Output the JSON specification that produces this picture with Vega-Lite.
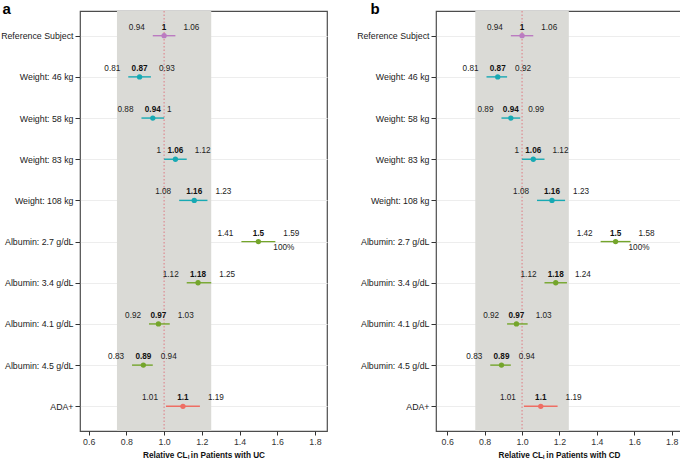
{
  "$schema": "https://vega.github.io/schema/vega-lite/v6.json",
  "padding": {"left": 0, "top": 0, "right": 1, "bottom": 0},
  "background": "white",
  "config": {
    "font": "Liberation Sans",
    "view": {"stroke": "#4d4d4d", "strokeWidth": 1.2},
    "concat": {"spacing": 28},
    "axisY": {
      "labelFont": "Liberation Sans", "labelFontSize": 8.8, "labelColor": "#1a1a1a",
      "tickColor": "#333333", "tickSize": 5, "labelPadding": 2, "domain": false,
      "grid": true, "gridColor": "#ededed", "minExtent": 79, "maxExtent": 79,
      "titleAngle": 0, "titleAlign": "left", "titleBaseline": "alphabetic", "titleY": 2.5,
      "titleFont": "Liberation Sans", "titleFontSize": 15, "titleFontWeight": "bold", "titleColor": "#000000"
    },
    "axisX": {
      "labelFont": "Liberation Sans", "labelFontSize": 8.8, "labelColor": "#333333",
      "tickColor": "#333333", "tickSize": 4, "labelPadding": 2, "domain": false,
      "titleFont": "Liberation Sans", "titleFontSize": 8.2, "titleFontWeight": "bold", "titleColor": "#111111", "titlePadding": 6,
      "labelOverlap": false, "labelFlush": false
    }
  },
  "datasets": {
    "uc": [
      {"label": "Reference Subject", "group": "Reference", "est": 1, "lo": 0.94, "hi": 1.06},
      {"label": "Weight: 46 kg", "group": "Weight", "est": 0.87, "lo": 0.81, "hi": 0.93},
      {"label": "Weight: 58 kg", "group": "Weight", "est": 0.94, "lo": 0.88, "hi": 1},
      {"label": "Weight: 83 kg", "group": "Weight", "est": 1.06, "lo": 1, "hi": 1.12},
      {"label": "Weight: 108 kg", "group": "Weight", "est": 1.16, "lo": 1.08, "hi": 1.23},
      {"label": "Albumin: 2.7 g/dL", "group": "Albumin", "est": 1.5, "lo": 1.41, "hi": 1.59, "note": "100%"},
      {"label": "Albumin: 3.4 g/dL", "group": "Albumin", "est": 1.18, "lo": 1.12, "hi": 1.25},
      {"label": "Albumin: 4.1 g/dL", "group": "Albumin", "est": 0.97, "lo": 0.92, "hi": 1.03},
      {"label": "Albumin: 4.5 g/dL", "group": "Albumin", "est": 0.89, "lo": 0.83, "hi": 0.94},
      {"label": "ADA+", "group": "ADA", "est": 1.1, "lo": 1.01, "hi": 1.19}
    ],
    "cd": [
      {"label": "Reference Subject", "group": "Reference", "est": 1, "lo": 0.94, "hi": 1.06},
      {"label": "Weight: 46 kg", "group": "Weight", "est": 0.87, "lo": 0.81, "hi": 0.92},
      {"label": "Weight: 58 kg", "group": "Weight", "est": 0.94, "lo": 0.89, "hi": 0.99},
      {"label": "Weight: 83 kg", "group": "Weight", "est": 1.06, "lo": 1, "hi": 1.12},
      {"label": "Weight: 108 kg", "group": "Weight", "est": 1.16, "lo": 1.08, "hi": 1.23},
      {"label": "Albumin: 2.7 g/dL", "group": "Albumin", "est": 1.5, "lo": 1.42, "hi": 1.58, "note": "100%"},
      {"label": "Albumin: 3.4 g/dL", "group": "Albumin", "est": 1.18, "lo": 1.12, "hi": 1.24},
      {"label": "Albumin: 4.1 g/dL", "group": "Albumin", "est": 0.97, "lo": 0.92, "hi": 1.03},
      {"label": "Albumin: 4.5 g/dL", "group": "Albumin", "est": 0.89, "lo": 0.83, "hi": 0.94},
      {"label": "ADA+", "group": "ADA", "est": 1.1, "lo": 1.01, "hi": 1.19}
    ]
  },
  "hconcat": [
    {
      "width": 247, "height": 420,
      "data": {"name": "uc"},
      "layer": [
        {
          "data": {"values": [{}]},
          "mark": {"type": "rect", "color": "#dadad6"},
          "encoding": {
            "x": {"datum": 0.75, "type": "quantitative",
              "scale": {"domain": [0.554, 1.864], "nice": false, "zero": false},
              "axis": {
                "title": "Relative CLₗ in Patients with UC",
                "values": [0.6, 0.7, 0.8, 0.9, 1.0, 1.1, 1.2, 1.3, 1.4, 1.5, 1.6, 1.7, 1.8],
                "labelExpr": "round(datum.value*10)%2==1 ? '' : format(datum.value, '.1f')",
                "gridColor": {"condition": {"test": "round(datum.value*10)%2==1", "value": "#f5f5f5"}, "value": "#e8e8e8"},
                "tickOpacity": {"condition": {"test": "round(datum.value*10)%2==1", "value": 0}, "value": 1}
              }},
            "x2": {"datum": 1.25}
          }
        },
        {
          "data": {"values": [{}]},
          "mark": {"type": "rule", "color": "#e0707a", "strokeDash": [1.5, 2], "strokeWidth": 0.9},
          "encoding": {"x": {"datum": 1, "type": "quantitative"}}
        },
        {
          "mark": {"type": "rule", "strokeWidth": 1.4},
          "encoding": {
            "y": {"field": "label", "type": "nominal", "sort": ["Reference Subject", "Weight: 46 kg", "Weight: 58 kg", "Weight: 83 kg", "Weight: 108 kg", "Albumin: 2.7 g/dL", "Albumin: 3.4 g/dL", "Albumin: 4.1 g/dL", "Albumin: 4.5 g/dL", "ADA+"], "scale": {"type": "point", "padding": 0.6},
              "axis": {"title": "a", "titleX": -78}},
            "x": {"field": "lo", "type": "quantitative"},
            "x2": {"field": "hi"},
            "color": {"field": "group", "type": "nominal", "scale": {"domain": ["Reference", "Weight", "Albumin", "ADA"], "range": ["#bb7bc1", "#17a9b3", "#74a52b", "#ee6e64"]}, "legend": null}
          }
        },
        {
          "mark": {"type": "point", "filled": true, "opacity": 1, "size": 28},
          "encoding": {
            "y": {"field": "label", "type": "nominal", "sort": ["Reference Subject", "Weight: 46 kg", "Weight: 58 kg", "Weight: 83 kg", "Weight: 108 kg", "Albumin: 2.7 g/dL", "Albumin: 3.4 g/dL", "Albumin: 4.1 g/dL", "Albumin: 4.5 g/dL", "ADA+"]},
            "x": {"field": "est", "type": "quantitative"},
            "color": {"field": "group", "type": "nominal", "legend": null}
          }
        },
        {
          "mark": {"type": "text", "align": "right", "baseline": "middle", "dy": -8, "dx": {"expr": "datum.lo == 1 ? -3 : -8"}, "fontSize": 8.2, "color": "#222222"},
          "encoding": {
            "y": {"field": "label", "type": "nominal", "sort": ["Reference Subject", "Weight: 46 kg", "Weight: 58 kg", "Weight: 83 kg", "Weight: 108 kg", "Albumin: 2.7 g/dL", "Albumin: 3.4 g/dL", "Albumin: 4.1 g/dL", "Albumin: 4.5 g/dL", "ADA+"]},
            "x": {"field": "lo", "type": "quantitative"},
            "text": {"field": "lo", "type": "nominal"}
          }
        },
        {
          "mark": {"type": "text", "align": "center", "baseline": "middle", "dy": -8, "fontSize": 8.2, "fontWeight": "bold", "color": "#111111"},
          "encoding": {
            "y": {"field": "label", "type": "nominal", "sort": ["Reference Subject", "Weight: 46 kg", "Weight: 58 kg", "Weight: 83 kg", "Weight: 108 kg", "Albumin: 2.7 g/dL", "Albumin: 3.4 g/dL", "Albumin: 4.1 g/dL", "Albumin: 4.5 g/dL", "ADA+"]},
            "x": {"field": "est", "type": "quantitative"},
            "text": {"field": "est", "type": "nominal"}
          }
        },
        {
          "mark": {"type": "text", "align": "left", "baseline": "middle", "dy": -8, "dx": {"expr": "datum.hi == 1 ? 3 : 8"}, "fontSize": 8.2, "color": "#222222"},
          "encoding": {
            "y": {"field": "label", "type": "nominal", "sort": ["Reference Subject", "Weight: 46 kg", "Weight: 58 kg", "Weight: 83 kg", "Weight: 108 kg", "Albumin: 2.7 g/dL", "Albumin: 3.4 g/dL", "Albumin: 4.1 g/dL", "Albumin: 4.5 g/dL", "ADA+"]},
            "x": {"field": "hi", "type": "quantitative"},
            "text": {"field": "hi", "type": "nominal"}
          }
        },
        {
          "transform": [{"filter": "datum.note"}],
          "mark": {"type": "text", "align": "left", "baseline": "middle", "dy": 6, "dx": -2, "fontSize": 8.2, "color": "#222222"},
          "encoding": {
            "y": {"field": "label", "type": "nominal", "sort": ["Reference Subject", "Weight: 46 kg", "Weight: 58 kg", "Weight: 83 kg", "Weight: 108 kg", "Albumin: 2.7 g/dL", "Albumin: 3.4 g/dL", "Albumin: 4.1 g/dL", "Albumin: 4.5 g/dL", "ADA+"]},
            "x": {"field": "hi", "type": "quantitative"},
            "text": {"field": "note", "type": "nominal"}
          }
        }
      ]
    },
    {
      "width": 246, "height": 420,
      "data": {"name": "cd"},
      "layer": [
        {
          "data": {"values": [{}]},
          "mark": {"type": "rect", "color": "#dadad6"},
          "encoding": {
            "x": {"datum": 0.75, "type": "quantitative",
              "scale": {"domain": [0.54, 1.855], "nice": false, "zero": false},
              "axis": {
                "title": "Relative CLₗ in Patients with CD",
                "values": [0.6, 0.7, 0.8, 0.9, 1.0, 1.1, 1.2, 1.3, 1.4, 1.5, 1.6, 1.7, 1.8],
                "labelExpr": "round(datum.value*10)%2==1 ? '' : format(datum.value, '.1f')",
                "gridColor": {"condition": {"test": "round(datum.value*10)%2==1", "value": "#f5f5f5"}, "value": "#e8e8e8"},
                "tickOpacity": {"condition": {"test": "round(datum.value*10)%2==1", "value": 0}, "value": 1}
              }},
            "x2": {"datum": 1.25}
          }
        },
        {
          "data": {"values": [{}]},
          "mark": {"type": "rule", "color": "#e0707a", "strokeDash": [1.5, 2], "strokeWidth": 0.9},
          "encoding": {"x": {"datum": 1, "type": "quantitative"}}
        },
        {
          "mark": {"type": "rule", "strokeWidth": 1.4},
          "encoding": {
            "y": {"field": "label", "type": "nominal", "sort": ["Reference Subject", "Weight: 46 kg", "Weight: 58 kg", "Weight: 83 kg", "Weight: 108 kg", "Albumin: 2.7 g/dL", "Albumin: 3.4 g/dL", "Albumin: 4.1 g/dL", "Albumin: 4.5 g/dL", "ADA+"], "scale": {"type": "point", "padding": 0.6},
              "axis": {"title": "b", "titleX": -66}},
            "x": {"field": "lo", "type": "quantitative"},
            "x2": {"field": "hi"},
            "color": {"field": "group", "type": "nominal", "scale": {"domain": ["Reference", "Weight", "Albumin", "ADA"], "range": ["#bb7bc1", "#17a9b3", "#74a52b", "#ee6e64"]}, "legend": null}
          }
        },
        {
          "mark": {"type": "point", "filled": true, "opacity": 1, "size": 28},
          "encoding": {
            "y": {"field": "label", "type": "nominal", "sort": ["Reference Subject", "Weight: 46 kg", "Weight: 58 kg", "Weight: 83 kg", "Weight: 108 kg", "Albumin: 2.7 g/dL", "Albumin: 3.4 g/dL", "Albumin: 4.1 g/dL", "Albumin: 4.5 g/dL", "ADA+"]},
            "x": {"field": "est", "type": "quantitative"},
            "color": {"field": "group", "type": "nominal", "legend": null}
          }
        },
        {
          "mark": {"type": "text", "align": "right", "baseline": "middle", "dy": -8, "dx": {"expr": "datum.lo == 1 ? -3 : -8"}, "fontSize": 8.2, "color": "#222222"},
          "encoding": {
            "y": {"field": "label", "type": "nominal", "sort": ["Reference Subject", "Weight: 46 kg", "Weight: 58 kg", "Weight: 83 kg", "Weight: 108 kg", "Albumin: 2.7 g/dL", "Albumin: 3.4 g/dL", "Albumin: 4.1 g/dL", "Albumin: 4.5 g/dL", "ADA+"]},
            "x": {"field": "lo", "type": "quantitative"},
            "text": {"field": "lo", "type": "nominal"}
          }
        },
        {
          "mark": {"type": "text", "align": "center", "baseline": "middle", "dy": -8, "fontSize": 8.2, "fontWeight": "bold", "color": "#111111"},
          "encoding": {
            "y": {"field": "label", "type": "nominal", "sort": ["Reference Subject", "Weight: 46 kg", "Weight: 58 kg", "Weight: 83 kg", "Weight: 108 kg", "Albumin: 2.7 g/dL", "Albumin: 3.4 g/dL", "Albumin: 4.1 g/dL", "Albumin: 4.5 g/dL", "ADA+"]},
            "x": {"field": "est", "type": "quantitative"},
            "text": {"field": "est", "type": "nominal"}
          }
        },
        {
          "mark": {"type": "text", "align": "left", "baseline": "middle", "dy": -8, "dx": {"expr": "datum.hi == 1 ? 3 : 8"}, "fontSize": 8.2, "color": "#222222"},
          "encoding": {
            "y": {"field": "label", "type": "nominal", "sort": ["Reference Subject", "Weight: 46 kg", "Weight: 58 kg", "Weight: 83 kg", "Weight: 108 kg", "Albumin: 2.7 g/dL", "Albumin: 3.4 g/dL", "Albumin: 4.1 g/dL", "Albumin: 4.5 g/dL", "ADA+"]},
            "x": {"field": "hi", "type": "quantitative"},
            "text": {"field": "hi", "type": "nominal"}
          }
        },
        {
          "transform": [{"filter": "datum.note"}],
          "mark": {"type": "text", "align": "left", "baseline": "middle", "dy": 6, "dx": -2, "fontSize": 8.2, "color": "#222222"},
          "encoding": {
            "y": {"field": "label", "type": "nominal", "sort": ["Reference Subject", "Weight: 46 kg", "Weight: 58 kg", "Weight: 83 kg", "Weight: 108 kg", "Albumin: 2.7 g/dL", "Albumin: 3.4 g/dL", "Albumin: 4.1 g/dL", "Albumin: 4.5 g/dL", "ADA+"]},
            "x": {"field": "hi", "type": "quantitative"},
            "text": {"field": "note", "type": "nominal"}
          }
        }
      ]
    }
  ]
}
